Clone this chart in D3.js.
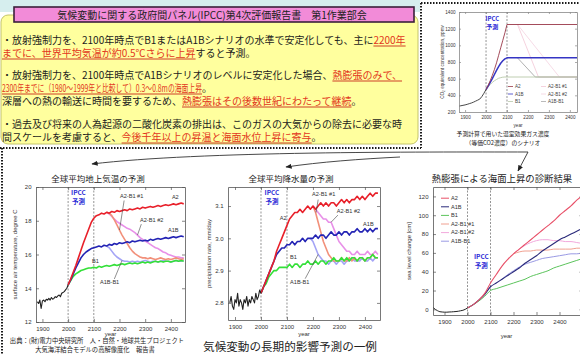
<!DOCTYPE html>
<html><head><meta charset="utf-8">
<script src="https://cdn.jsdelivr.net/npm/d3@7"></script>
<style>
body{margin:0;background:#fff;}
svg{display:block;}
.jp{font-family:"Noto Sans CJK JP","Noto Sans",sans-serif;}
.ax{font-family:"Liberation Sans",Arial,sans-serif;}
</style></head><body>
<svg id="c" width="580" height="354"></svg>
<script>
// ---------------- data ----------------
const headline = "気候変動に関する政府間パネル(IPCC)第4次評価報告書　第1作業部会";
// each line: [text, highlighted]
const bulletLines = [
  [["・放射強制力を、2100年時点でB1またはA1Bシナリオの水準で安定化しても、主に", 0], ["2200年", 1]],
  [["までに、世界平均気温が約0.5℃さらに上昇", 1], ["すると予測。", 0]],
  [["・放射強制力を、2100年時点でA1Bシナリオのレベルに安定化した場合、", 0], ["熱膨張のみで、", 1]],
  [["2300年までに（1980～1999年と比較して）0.3～0.8mの海面上昇", 1], ["。", 0]],
  [["深層への熱の輸送に時間を要するため、", 0], ["熱膨張はその後数世紀にわたって継続", 1], ["。", 0]],
  [["・過去及び将来の人為起源の二酸化炭素の排出は、このガスの大気からの除去に必要な時", 0]],
  [["間スケールを考慮すると、", 0], ["今後千年以上の昇温と海面水位上昇に寄与", 1], ["。", 0]]
];
const scenarioNames = ["A2", "A1B", "B1", "A2-B1 #1", "A2-B1 #2", "A1B-B1"];
const yearTicks = [1900, 2000, 2100, 2200, 2300, 2400];

// surface air temperature (degree C)
const tempHistYears = d3.range(1880, 2001, 5);
const tempHist = [13.2, 13.1, 13.3, 12.8, 13.25, 13.3, 13.2, 13.35, 13.3, 13.4, 13.3, 13.45, 13.35,
  13.4, 13.5, 13.45, 13.55, 13.6, 13.5, 13.7, 13.75, 13.8, 13.9, 14.0, 14.2];
const scenYears = d3.range(2000, 2451, 10);
const tempA2 = [14.2, 14.55, 14.95, 15.35, 15.8, 16.25, 16.7, 17.1, 17.5, 17.9, 18.15, 18.3, 18.35, 18.45,
  18.4, 18.5, 18.45, 18.55, 18.5, 18.6, 18.55, 18.6, 18.65, 18.6, 18.7, 18.65, 18.7, 18.75, 18.7, 18.8,
  18.75, 18.8, 18.85, 18.8, 18.85, 18.9, 18.85, 18.9, 18.95, 18.9, 18.95, 19.0, 18.95, 19.0, 19.05, 19.0];
const tempA1B = [14.2, 14.5, 14.85, 15.2, 15.5, 15.8, 16.0, 16.15, 16.25, 16.35, 16.4, 16.45, 16.5, 16.45,
  16.55, 16.5, 16.6, 16.55, 16.65, 16.6, 16.7, 16.65, 16.7, 16.75, 16.7, 16.8, 16.75, 16.8, 16.85, 16.8,
  16.85, 16.8, 16.9, 16.85, 16.9, 16.95, 16.9, 16.95, 17.0, 16.95, 17.0, 17.05, 17.0, 17.05, 17.1, 17.05];
const tempB1 = [14.2, 14.45, 14.7, 14.85, 14.95, 15.05, 15.1, 15.15, 15.2, 15.2, 15.25, 15.2, 15.3, 15.25,
  15.3, 15.35, 15.3, 15.35, 15.4, 15.35, 15.4, 15.45, 15.4, 15.45, 15.5, 15.45, 15.5, 15.45, 15.5, 15.55,
  15.5, 15.55, 15.5, 15.55, 15.6, 15.55, 15.6, 15.55, 15.6, 15.6, 15.55, 15.6, 15.65, 15.6, 15.65, 15.6];
const branchYears2150 = d3.range(2150, 2451, 10);
const tempA2B1a = [18.5, 18.45, 18.3, 18.05, 17.75, 17.45, 17.15, 16.9, 16.65, 16.4, 16.2, 16.05, 15.95,
  15.85, 15.8, 15.8, 15.75, 15.8, 15.75, 15.7, 15.75, 15.8, 15.75, 15.7, 15.75, 15.7, 15.75, 15.8, 15.75, 15.7, 15.75];
const tempA2B1b = [18.5, 18.4, 18.25, 18.1, 17.95, 17.85, 17.75, 17.65, 17.55, 17.5, 17.4, 17.3, 17.15,
  17.0, 16.9, 16.8, 16.7, 16.6, 16.5, 16.4, 16.35, 16.25, 16.15, 16.1, 16.0, 15.95, 15.9, 15.85, 15.85, 15.8, 15.8];
const tempA1BB1 = [16.5, 16.4, 16.2, 16.0, 15.85, 15.75, 15.65, 15.6, 15.6, 15.55, 15.6, 15.55, 15.6,
  15.55, 15.6, 15.65, 15.6, 15.55, 15.6, 15.6, 15.55, 15.6, 15.65, 15.6, 15.6, 15.55, 15.6, 15.65, 15.6, 15.6, 15.65];

// precipitation rate (mm/day)
const precipHist = [2.80, 2.82, 2.79, 2.78, 2.81, 2.80, 2.83, 2.79, 2.81, 2.80, 2.78, 2.81, 2.80, 2.82,
  2.79, 2.81, 2.80, 2.82, 2.81, 2.80, 2.83, 2.81, 2.82, 2.84, 2.83];
const precipA2 = [2.83, 2.85, 2.87, 2.89, 2.91, 2.93, 2.96, 2.98, 3.00, 3.02, 3.04, 3.06, 3.07, 3.08, 3.08,
  3.09, 3.08, 3.09, 3.10, 3.09, 3.10, 3.09, 3.10, 3.11, 3.10, 3.11, 3.10, 3.11, 3.11, 3.10, 3.11, 3.12,
  3.11, 3.12, 3.11, 3.12, 3.12, 3.13, 3.12, 3.13, 3.12, 3.13, 3.14, 3.13, 3.14, 3.14];
const precipA1B = [2.83, 2.85, 2.87, 2.89, 2.91, 2.93, 2.95, 2.96, 2.97, 2.97, 2.98, 2.98, 2.99, 2.98,
  2.99, 2.99, 3.00, 2.99, 3.00, 3.00, 3.00, 3.01, 3.00, 3.01, 3.01, 3.00, 3.01, 3.02, 3.01, 3.01, 3.02,
  3.01, 3.02, 3.02, 3.01, 3.02, 3.02, 3.03, 3.02, 3.02, 3.03, 3.02, 3.03, 3.02, 3.03, 3.03];
const precipB1 = [2.83, 2.85, 2.86, 2.88, 2.89, 2.90, 2.90, 2.91, 2.91, 2.91, 2.91, 2.92, 2.91, 2.92,
  2.92, 2.91, 2.92, 2.92, 2.93, 2.92, 2.92, 2.93, 2.92, 2.93, 2.93, 2.92, 2.93, 2.93, 2.94, 2.93, 2.93,
  2.94, 2.93, 2.94, 2.93, 2.94, 2.94, 2.93, 2.94, 2.94, 2.93, 2.94, 2.94, 2.95, 2.94, 2.94];
const branchYears2200 = d3.range(2200, 2451, 10);
const precipA2B1a = [3.10, 3.08, 3.05, 3.02, 2.99, 2.97, 2.95, 2.94, 2.93, 2.93, 2.93, 2.94, 2.93, 2.93,
  2.94, 2.93, 2.94, 2.93, 2.94, 2.94, 2.93, 2.94, 2.94, 2.95, 2.94, 2.94];
const precipA2B1b = [3.10, 3.09, 3.08, 3.07, 3.06, 3.06, 3.05, 3.05, 3.03, 3.01, 2.99, 2.98, 2.97, 2.96,
  2.96, 2.95, 2.95, 2.96, 2.95, 2.95, 2.95, 2.96, 2.95, 2.95, 2.96, 2.95];
const branchYears2190 = d3.range(2190, 2451, 10);
const precipA1BB1 = [3.00, 2.99, 2.97, 2.95, 2.94, 2.93, 2.93, 2.92, 2.93, 2.93, 2.92, 2.93, 2.93, 2.92,
  2.93, 2.93, 2.94, 2.93, 2.93, 2.93, 2.94, 2.93, 2.93, 2.94, 2.93, 2.94, 2.94];

// thermal-expansion sea level rise (cm)
const seaHistYears = d3.range(1850, 2001, 10);
const seaHist = [2, 0, -1.5, -2.5, -2.8, -3, -3, -2.8, -2.7, -2.5, -2.3, -2, -1.5, -1, 0, 1.5];
const seaYears = d3.range(2000, 2501, 25);
const seaA2 = [1.5, 5, 10, 17, 28, 37, 46, 53, 59, 64, 69, 74, 79, 84, 89, 94, 100, 105, 110, 116, 121];
const seaA1B = [1.5, 5, 10, 16, 24, 28, 32, 36, 40, 44, 49, 53, 57, 62, 66, 70, 74, 77, 80, 83, 86];
const seaB1 = [1.5, 5, 9, 14, 20, 22, 24, 26, 28, 30, 32, 35, 37, 39, 41, 44, 46, 48, 50, 52, 54];
const seaBranchYears = d3.range(2200, 2501, 25);
const seaA2B1a = [59, 61, 62, 62, 63, 63, 63, 64, 64, 64, 64, 65, 65];
const seaA2B1b = [59, 64, 68, 71, 73, 74, 74, 73, 73, 72, 72, 71, 70];
const seaA1BB1Years = d3.range(2150, 2501, 25);
const seaA1BB1 = [32, 37, 41, 45, 48, 50, 52, 54, 55, 56, 57, 58, 59, 59, 60];

// greenhouse gas scenarios (CO2 equivalent, ppmv)
const co2HistYears = d3.range(1870, 2001, 10);
const co2Hist = [270, 275, 280, 285, 292, 300, 308, 318, 330, 342, 355, 385, 425, 470];
const co2Years = [2000, 2010, 2020, 2030, 2040, 2050, 2060, 2070, 2080, 2090, 2100, 2440];
const co2A2 = [470, 520, 575, 640, 710, 790, 880, 970, 1060, 1150, 1250, 1250];
const co2A1B = [470, 510, 555, 600, 650, 700, 745, 785, 815, 838, 850, 850];
const co2B1 = [470, 500, 530, 555, 575, 590, 605, 612, 618, 620, 620, 620];
const co2A1BB1Years = [2150, 2235, 2440];
const co2A1BB1 = [850, 620, 620];
const co2A2B1aYears = [2150, 2250, 2440];
const co2A2B1a = [1250, 620, 620];
const co2A2B1bYears = [2150, 2350, 2440];
const co2A2B1b = [1250, 620, 620];
const co2Ticks = [200, 400, 600, 800, 1000, 1200, 1400];

// ---------------- drawing ----------------
const svg = d3.select("#c");
const JP = "jp", AX = "ax";
const HI = "#e2361c", INK = "#1c1c1c", IPCC_BLUE = "#2b2bd6";

const colT = { "A2": "#e8202a", "A1B": "#2323b4", "B1": "#33e038", "A2-B1 #1": "#f2907a", "A2-B1 #2": "#e890e8", "A1B-B1": "#a4a4f6" };
const colS = { "A2": "#e85068", "A1B": "#2a2a7a", "B1": "#5cc45c", "A2-B1 #1": "#f0a090", "A2-B1 #2": "#f2a8dc", "A1B-B1": "#9a9ae4" };

// top strip and summary box
svg.append("rect").attr("x", 0).attr("y", 0).attr("width", 420).attr("height", 12).attr("fill", "#d6eeee");
svg.append("rect").attr("x", 1).attr("y", 15).attr("width", 417).attr("height", 129).attr("rx", 7)
  .attr("fill", "#ffff9e").attr("stroke", "#c4c46a").attr("stroke-width", 1);
svg.append("rect").attr("x", 14).attr("y", 7).attr("width", 400).attr("height", 15)
  .attr("fill", "#f28bd8").attr("stroke", "#3b203b").attr("stroke-width", 1.6);
svg.append("text").attr("class", JP).attr("x", 212).attr("y", 18.5).attr("text-anchor", "middle")
  .attr("font-size", 10).attr("fill", "#222").text(headline);

const lineBase = [44, 57, 79, 92, 105, 128, 141];
const fitWidth = { 3: 200 };
bulletLines.forEach((segs, li) => {
  let x = 2;
  segs.forEach(([txt, hi], si) => {
    const t = svg.append("text").attr("class", JP).attr("x", x).attr("y", lineBase[li])
      .attr("font-size", 10).attr("fill", hi ? HI : INK).text(txt);
    let w = t.node().getComputedTextLength();
    if (si === 0 && fitWidth[li]) {
      w = fitWidth[li];
      t.attr("textLength", w).attr("lengthAdjust", "spacingAndGlyphs");
    }
    if (hi) {
      svg.append("line").attr("x1", x).attr("x2", x + w).attr("y1", lineBase[li] + 2).attr("y2", lineBase[li] + 2)
        .attr("stroke", "#c8281a").attr("stroke-width", 0.9);
    }
    x += w;
  });
});

// dotted separators
const dotted = (x1, y1, x2, y2) => svg.append("line").attr("x1", x1).attr("y1", y1).attr("x2", x2).attr("y2", y2)
  .attr("stroke", "#1a1a1a").attr("stroke-width", 2).attr("stroke-dasharray", "1.5,1.5");
dotted(421, 3, 421, 148);
dotted(0, 148, 421, 148);
dotted(421, 3, 580, 3);
dotted(2, 148, 2, 354);

// generic panel
function panel(cfg) {
  const g = svg.append("g");
  const x = d3.scaleLinear().domain(cfg.xDomain).range([cfg.left, cfg.right]);
  const y = d3.scaleLinear().domain(cfg.yDomain).range([cfg.bottom, cfg.top]);
  const clipId = "clip-" + cfg.id;
  svg.append("clipPath").attr("id", clipId).append("rect")
    .attr("x", cfg.left).attr("y", cfg.top).attr("width", cfg.right - cfg.left).attr("height", cfg.bottom - cfg.top);
  g.append("rect").attr("x", cfg.left).attr("y", cfg.top).attr("width", cfg.right - cfg.left)
    .attr("height", cfg.bottom - cfg.top).attr("fill", "#fff");
  // IPCC projection window
  [2000, 2100].forEach(yr => g.append("line").attr("x1", x(yr)).attr("x2", x(yr))
    .attr("y1", cfg.top).attr("y2", cfg.bottom).attr("stroke", "#666").attr("stroke-width", 0.7)
    .attr("stroke-dasharray", "2,1.5"));
  const lines = g.append("g").attr("clip-path", `url(#${clipId})`);
  const lineGen = d3.line().x(d => x(d[0])).y(d => y(d[1])).curve(cfg.curve || d3.curveLinear);
  cfg.series.forEach(s => {
    lines.append("path").datum(s.years.map((yr, i) => [yr, s.values[i]]))
      .attr("d", lineGen).attr("fill", "none").attr("stroke", s.color)
      .attr("stroke-width", s.width || 1.6).attr("stroke-opacity", s.opacity || 1)
      .attr("stroke-linejoin", "round");
  });
  const fs = cfg.fontSize || 6;
  const styleAxis = a => {
    a.selectAll("path").attr("stroke", cfg.frame || "#555").attr("stroke-width", 0.8);
    a.selectAll("line").attr("stroke", cfg.frame || "#555").attr("stroke-width", 0.7);
    a.selectAll("text").attr("class", AX).attr("font-size", fs).attr("fill", "#333");
  };
  const ts = cfg.tick || 3;
  g.append("g").attr("transform", `translate(0,${cfg.bottom})`)
    .call(d3.axisBottom(x).tickValues(yearTicks).tickSizeInner(-ts).tickSizeOuter(0).tickPadding(ts + 1.5).tickFormat(d3.format("d")))
    .call(styleAxis);
  g.append("g").attr("transform", `translate(0,${cfg.top})`)
    .call(d3.axisTop(x).tickValues(yearTicks).tickSizeInner(-ts).tickSizeOuter(0).tickFormat(""))
    .call(styleAxis);
  g.append("g").attr("transform", `translate(${cfg.left},0)`)
    .call(d3.axisLeft(y).tickValues(cfg.yTicks).tickSizeInner(-ts).tickSizeOuter(0).tickPadding(ts + 1.5).tickFormat(cfg.yFormat))
    .call(styleAxis);
  g.append("g").attr("transform", `translate(${cfg.right},0)`)
    .call(d3.axisRight(y).tickValues(cfg.yTicks).tickSizeInner(-ts).tickSizeOuter(0).tickFormat(""))
    .call(styleAxis);
  g.selectAll(".domain").attr("fill", "none");
  // axis titles
  g.append("text").attr("class", AX).attr("x", (cfg.left + Math.min(cfg.right, 580)) / 2).attr("y", cfg.xLabelY)
    .attr("text-anchor", "middle").attr("font-size", fs).attr("fill", "#333").text("year");
  g.append("text").attr("class", AX).attr("transform", `translate(${cfg.yLabelX},${(cfg.top + cfg.bottom) / 2}) rotate(-90)`)
    .attr("text-anchor", "middle").attr("font-size", fs).attr("fill", "#333").text(cfg.yLabel);
  // title
  if (cfg.title) {
    g.append("text").attr("class", JP).attr("x", cfg.titleX).attr("y", cfg.titleY).attr("text-anchor", "middle")
      .attr("font-size", cfg.titleSize || 8.5).attr("fill", "#222").text(cfg.title);
  }
  // IPCC tag
  const ix = x(cfg.ipccYear);
  g.append("text").attr("class", JP).attr("x", ix).attr("y", cfg.ipccY).attr("text-anchor", "middle")
    .attr("font-size", cfg.ipccSize || 6.5).attr("font-weight", "bold").attr("fill", IPCC_BLUE).text("IPCC");
  g.append("text").attr("class", JP).attr("x", ix).attr("y", cfg.ipccY + cfg.ipccSize * 1.35).attr("text-anchor", "middle")
    .attr("font-size", cfg.ipccSize || 6.5).attr("font-weight", "bold").attr("fill", IPCC_BLUE).text("予測");
  return { g, x, y };
}

function pick(years, vals, yr) { return vals[years.indexOf(yr)]; }

function annotate(p, items) {
  items.forEach(it => {
    p.g.append("text").attr("class", AX).attr("x", p.x(it.at[0])).attr("y", p.y(it.at[1]))
      .attr("font-size", 5.6).attr("fill", "#333").text(it.text);
    if (it.to) {
      p.g.append("line").attr("x1", p.x(it.from[0])).attr("y1", p.y(it.from[1]))
        .attr("x2", p.x(it.to[0])).attr("y2", p.y(it.to[1])).attr("stroke", "#444").attr("stroke-width", 0.6);
    }
  });
}

// ---- surface air temperature ----
const pT = panel({
  id: "t", left: 36, right: 185, top: 187, bottom: 322,
  xDomain: [1875, 2455], yDomain: [12, 20], yTicks: [12, 14, 16, 18, 20], yFormat: d3.format("d"),
  yLabel: "surface air temperature, degree C", yLabelX: 17, xLabelY: 336,
  title: "全球平均地上気温の予測", titleX: 98, titleY: 182,
  ipccYear: 2040, ipccY: 195, ipccSize: 6.5,
  series: [
    { years: branchYears2150, values: tempA1BB1, color: colT["A1B-B1"] },
    { years: branchYears2150, values: tempA2B1b, color: colT["A2-B1 #2"] },
    { years: branchYears2150, values: tempA2B1a, color: colT["A2-B1 #1"] },
    { years: scenYears, values: tempB1, color: colT["B1"] },
    { years: scenYears, values: tempA1B, color: colT["A1B"] },
    { years: scenYears, values: tempA2, color: colT["A2"] },
    { years: tempHistYears, values: tempHist, color: "#222", width: 1.1 }
  ]
});
annotate(pT, [
  { text: "A2-B1 #1", at: [2202, 19.35], from: [2218, 19.2], to: [2200, pick(branchYears2150, tempA2B1a, 2200)] },
  { text: "A2", at: [2404, 19.3] },
  { text: "A2-B1 #2", at: [2280, 17.95], from: [2285, 17.8], to: [2270, pick(branchYears2150, tempA2B1b, 2270)] },
  { text: "A1B", at: [2389, 17.35] },
  { text: "B1", at: [2093, 15.5] },
  { text: "A1B-B1", at: [2124, 14.25], from: [2180, 14.55], to: [2210, pick(branchYears2150, tempA1BB1, 2210)] }
]);

// ---- precipitation ----
const pP = panel({
  id: "p", left: 228, right: 380, top: 187, bottom: 320,
  xDomain: [1873, 2458], yDomain: [2.747, 3.159], yTicks: [2.8, 2.9, 3.0, 3.1], yFormat: d3.format(".1f"),
  yLabel: "precipitation rate, mm/day", yLabelX: 211, xLabelY: 336,
  title: "全球平均降水量の予測", titleX: 291, titleY: 182,
  ipccYear: 2042, ipccY: 195, ipccSize: 6.5,
  series: [
    { years: branchYears2190, values: precipA1BB1, color: colT["A1B-B1"] },
    { years: branchYears2200, values: precipA2B1b, color: colT["A2-B1 #2"] },
    { years: branchYears2200, values: precipA2B1a, color: colT["A2-B1 #1"] },
    { years: scenYears, values: precipB1, color: colT["B1"] },
    { years: scenYears, values: precipA1B, color: colT["A1B"] },
    { years: scenYears, values: precipA2, color: colT["A2"] },
    { years: tempHistYears, values: precipHist, color: "#222", width: 1.1 }
  ]
});
annotate(pP, [
  { text: "A2-B1 #1", at: [2196, 3.131], from: [2220, 3.12], to: [2212, pick(branchYears2200, precipA2B1a, 2210)] },
  { text: "A2-B1 #2", at: [2292, 3.08], from: [2296, 3.072], to: [2270, pick(branchYears2200, precipA2B1b, 2270)] },
  { text: "A1B", at: [2393, 3.038] },
  { text: "A2", at: [2072, 3.057] },
  { text: "B1", at: [2112, 2.936] },
  { text: "A1B-B1", at: [2112, 2.86], from: [2170, 2.875], to: [2220, pick(branchYears2190, precipA1BB1, 2220)] }
]);

// ---- thermal expansion sea level ----
const pS = panel({
  id: "s", left: 433, right: 582.5, top: 187, bottom: 315,
  xDomain: [1850, 2500], yDomain: [-6, 130], yTicks: [0, 20, 40, 60, 80, 100, 120], yFormat: d3.format("d"),
  yLabel: "sea level change [cm]", yLabelX: 411, xLabelY: 338,
  title: "熱膨張による海面上昇の診断結果", titleX: 502, titleY: 182, titleSize: 9.4,
  ipccYear: 2060, ipccY: 259, ipccSize: 6.5, curve: d3.curveMonotoneX,
  series: [
    { years: seaA1BB1Years, values: seaA1BB1, color: colS["A1B-B1"], width: 1 },
    { years: seaBranchYears, values: seaA2B1b, color: colS["A2-B1 #2"], width: 1 },
    { years: seaBranchYears, values: seaA2B1a, color: colS["A2-B1 #1"], width: 1 },
    { years: seaYears, values: seaB1, color: colS["B1"], width: 1 },
    { years: seaYears, values: seaA1B, color: colS["A1B"], width: 1.1 },
    { years: seaYears, values: seaA2, color: colS["A2"], width: 1.1 },
    { years: seaHistYears, values: seaHist, color: "#222", width: 1 }
  ]
});
// legend
scenarioNames.forEach((n, i) => {
  const ly = 200 + i * 8.6;
  pS.g.append("line").attr("x1", 441).attr("x2", 449).attr("y1", ly - 1.8).attr("y2", ly - 1.8)
    .attr("stroke", colS[n]).attr("stroke-width", 1);
  pS.g.append("text").attr("class", AX).attr("x", 451).attr("y", ly).attr("font-size", 5.6).attr("fill", "#333").text(n);
});

// ---- greenhouse gas concentration scenarios ----
const pC = panel({
  id: "c", left: 459, right: 577, top: 12, bottom: 112,
  xDomain: [1871, 2434], yDomain: [200, 1400], yTicks: co2Ticks, yFormat: d3.format("d"),
  yLabel: "CO\u2082 equivalent concentration, ppmv", yLabelX: 444, xLabelY: 127,
  fontSize: 4.6, tick: 2, frame: "#888",
  ipccYear: 2030, ipccY: 21, ipccSize: 6,
  series: [
    { years: co2A2B1bYears, values: co2A2B1b, color: "#f4d2e0", width: 0.8 },
    { years: co2A2B1aYears, values: co2A2B1a, color: "#f2c6d6", width: 0.8 },
    { years: co2A1BB1Years, values: co2A1BB1, color: "#a8a8a8", width: 0.9 },
    { years: co2Years, values: co2B1, color: "#b8c8a8", width: 0.9 },
    { years: co2Years, values: co2A1B, color: "#3535c4", width: 1.5 },
    { years: co2Years, values: co2A2, color: "#9a3848", width: 0.9 },
    { years: co2HistYears, values: co2Hist, color: "#333", width: 0.9 }
  ]
});
const co2LegendColors = ["#9a3848", "#3535c4", "#b8c8a8", "#f2c6d6", "#f4d2e0", "#a8a8a8"];
scenarioNames.forEach((n, i) => {
  const col = i < 3 ? 0 : 1, row = i % 3;
  const lx = col ? 541 : 508, ly = 88 + row * 7.5;
  pC.g.append("line").attr("x1", lx).attr("x2", lx + 5).attr("y1", ly - 1.5).attr("y2", ly - 1.5)
    .attr("stroke", co2LegendColors[i]).attr("stroke-width", 0.8);
  pC.g.append("text").attr("class", AX).attr("x", lx + 7).attr("y", ly).attr("font-size", 4.6).attr("fill", "#444").text(n);
});
svg.append("text").attr("class", JP).attr("x", 503).attr("y", 136).attr("text-anchor", "middle")
  .attr("font-size", 5.8).attr("fill", "#222").text("予測計算で用いた温室効果ガス濃度");
svg.append("text").attr("class", JP).attr("x", 503).attr("y", 145).attr("text-anchor", "middle")
  .attr("font-size", 5.8).attr("fill", "#222").text("（等価CO2濃度）のシナリオ");

// connector arrows from the scenario panel to the result panels
const defs = svg.append("defs");
defs.append("marker").attr("id", "ah").attr("viewBox", "0 0 10 10").attr("refX", 9).attr("refY", 5)
  .attr("markerWidth", 7).attr("markerHeight", 7).attr("orient", "auto-start-reverse")
  .append("path").attr("d", "M0,1 L10,5 L0,9 Z").attr("fill", "#222");
const arrow = d => svg.append("path").attr("d", d).attr("fill", "none").attr("stroke", "#333")
  .attr("stroke-width", 0.9).attr("marker-end", "url(#ah)");
arrow("M528,152 C420,152 200,151 92,164");
arrow("M400,157 C360,159 320,162 286,167");
arrow("M528,152 L518,171");

// captions
svg.append("text").attr("class", JP).attr("x", 97).attr("y", 343).attr("text-anchor", "middle")
  .attr("font-size", 6.3).attr("fill", "#222").text("出典：(財)電力中央研究所　人・自然・地球共生プロジェクト");
svg.append("text").attr("class", JP).attr("x", 95).attr("y", 351.5).attr("text-anchor", "middle")
  .attr("font-size", 6.3).attr("fill", "#222").text("大気海洋結合モデルの高解像度化　報告書");
svg.append("text").attr("class", JP).attr("x", 290).attr("y", 351).attr("text-anchor", "middle")
  .attr("font-size", 11.6).attr("fill", "#222").text("気候変動の長期的影響予測の一例");
</script>
</body></html>
